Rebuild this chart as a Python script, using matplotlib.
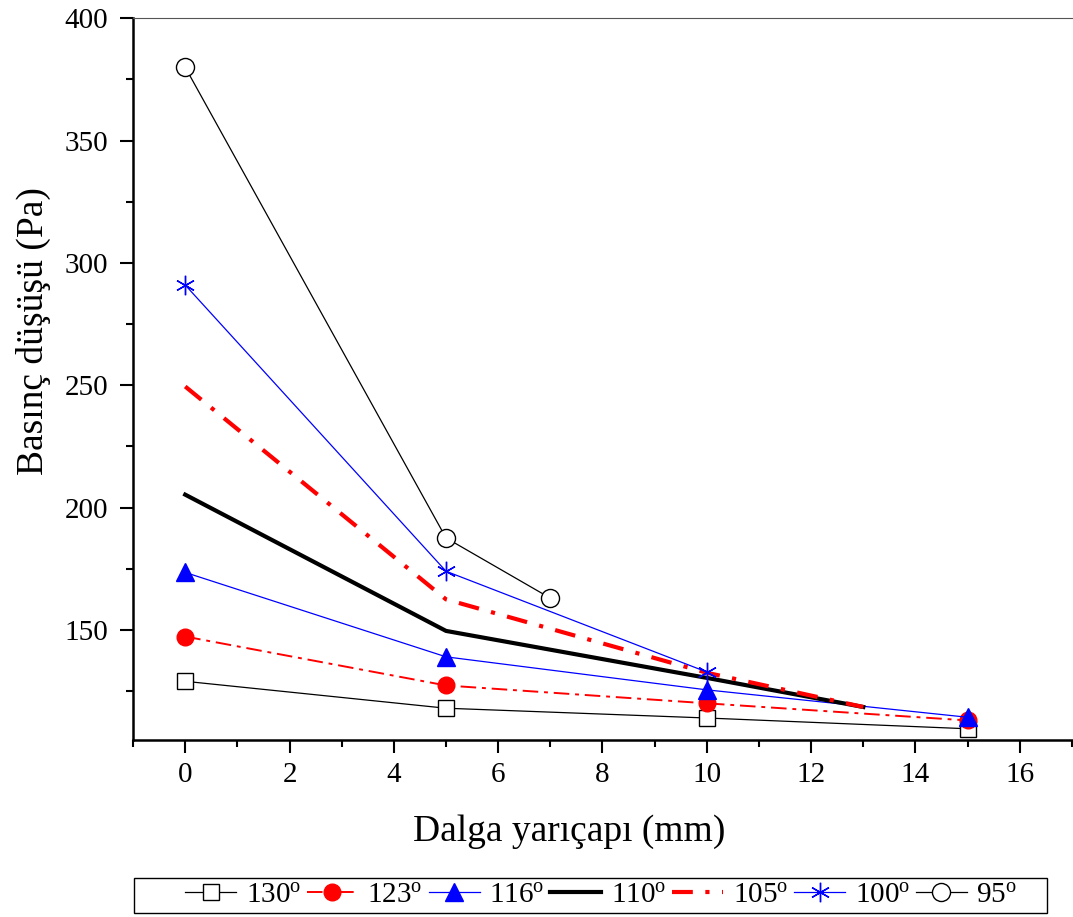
import matplotlib
matplotlib.use("Agg")
import matplotlib.pyplot as plt
from matplotlib.patches import Rectangle
from matplotlib.ticker import MultipleLocator

plt.rcParams['font.family'] = ['Liberation Serif', 'DejaVu Serif']
plt.rcParams['mathtext.fontset'] = 'custom'
plt.rcParams['mathtext.rm'] = 'Liberation Serif'
plt.rcParams['mathtext.it'] = 'Liberation Serif:italic'

# veriler (dalga yarıçapı mm -> basınç düşüşü Pa)
x_130 = [0, 5, 10, 15]
y_130 = [129.0, 118.0, 114.0, 109.6]
x_123 = [0, 5, 10, 15]
y_123 = [147.3, 127.3, 120.0, 113.0]
x_116 = [0, 5, 10, 15]
y_116 = [173.5, 139.0, 125.5, 114.3]
x_110 = [0, 5, 10, 13]
y_110 = [205.3, 149.6, 130.4, 118.5]
x_105 = [0, 5, 10, 13]
y_105 = [249.5, 162.5, 132.5, 118.5]
x_100 = [0, 5, 10]
y_100 = [291.0, 174.0, 132.8]
x_95 = [0, 5, 7]
y_95 = [380.0, 187.6, 163.0]

fig = plt.figure(figsize=(10.73, 9.17), dpi=100)
ax = fig.add_axes([0.124, 0.193, 0.875, 0.787])

ax.plot(x_130, y_130, color='black', lw=0.9, marker='s', ms=11,
        mfc='white', mec='black', mew=1.0, label=r'130$^{\mathrm{o}}$')
ax.plot(x_123, y_123, color='red', lw=1.4, ls=(0, (8, 3, 2, 3)), marker='o', ms=12,
        mfc='red', mec='red', label=r'123$^{\mathrm{o}}$')
ax.plot(x_116, y_116, color='blue', lw=0.9, marker='^', ms=13,
        mfc='blue', mec='blue', label=r'116$^{\mathrm{o}}$')
ax.plot(x_110, y_110, color='black', lw=3.0, label=r'110$^{\mathrm{o}}$')
ax.plot(x_105, y_105, color='red', lw=3.0, ls=(0, (5, 3, 1, 3)),
        label=r'105$^{\mathrm{o}}$')
ax.plot(x_100, y_100, color='blue', lw=0.9, marker=(6, 2, 0), ms=14,
        mec='blue', mew=1.0, label=r'100$^{\mathrm{o}}$')
ax.plot(x_95, y_95, color='black', lw=0.9, marker='o', ms=13,
        mfc='white', mec='black', mew=1.0, label=r'95$^{\mathrm{o}}$')

ax.set_xlim(-1, 17)
ax.set_ylim(105, 400)
ax.xaxis.set_minor_locator(MultipleLocator(1))
ax.yaxis.set_minor_locator(MultipleLocator(25))
ax.set_xticks(range(0, 17, 2))
ax.set_yticks(range(150, 401, 50))

ax.spines['right'].set_visible(False)
ax.spines['top'].set_color('#555555')
ax.spines['top'].set_linewidth(0.8)
ax.spines['left'].set_linewidth(1.8)
ax.spines['bottom'].set_linewidth(1.8)
ax.tick_params(which='major', direction='out', length=9.5, width=1.5, labelsize=21)
ax.tick_params(axis='x', which='major', pad=6)
ax.tick_params(axis='y', which='major', pad=8.5)
ax.tick_params(which='minor', direction='out', length=5, width=1.5)
ax.tick_params(top=False, right=False, which='both')

ax.set_xlabel('Dalga yarıçapı (mm)', fontsize=27)
ax.xaxis.set_label_coords(0.465, -0.103)
ax.set_ylabel('Basınç düşüşü (Pa)', fontsize=27)
ax.yaxis.set_label_coords(-0.087, 0.566)

# lejant: çerçeve ayrı çiziliyor (soldaki boşluk için)
fig.patches.append(Rectangle((0.1249, 0.0044), 0.851, 0.0382, transform=fig.transFigure,
                             fill=False, edgecolor='black', lw=1.0))
leg = fig.legend(loc='center left', bbox_to_anchor=(0.1724, 0.0235), ncol=7, fontsize=21,
                 frameon=False, handlelength=1.75, handletextpad=0.33, columnspacing=0.2,
                 borderpad=0, borderaxespad=0)

fig.savefig('out.png', dpi=100)
